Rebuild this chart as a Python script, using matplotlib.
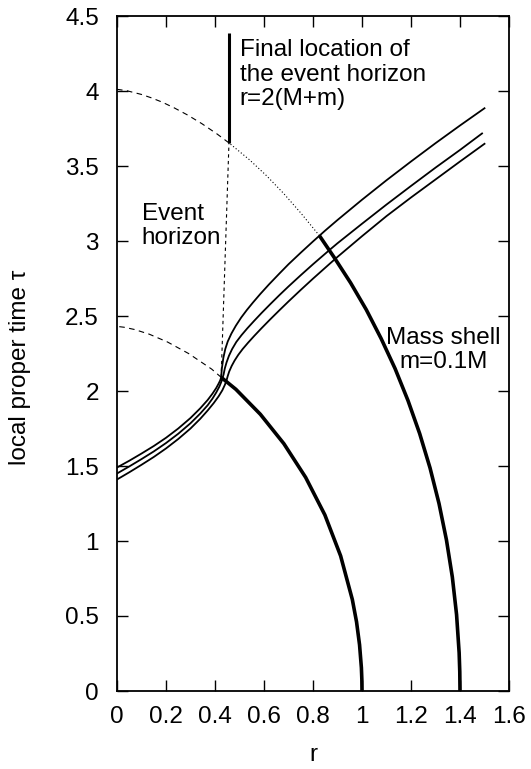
import matplotlib
matplotlib.use("Agg")
import matplotlib.pyplot as plt

plt.rcParams['font.family'] = ['Liberation Sans', 'DejaVu Sans']

# light rays (upper, middle, lower)
ray1_r = [0.0, 0.05, 0.10, 0.15, 0.20, 0.25, 0.30, 0.34, 0.37, 0.39, 0.405, 0.415, 0.421, 0.425, 0.428, 0.434,
          0.442, 0.452, 0.467, 0.485, 0.507, 0.53, 0.555, 0.585, 0.62, 0.664, 0.70, 0.75, 0.80, 0.85, 0.90,
          1.00, 1.10, 1.20, 1.30, 1.40, 1.50]
ray1_t = [1.49, 1.535, 1.583, 1.633, 1.688, 1.75, 1.82, 1.885, 1.94, 1.983, 2.02, 2.05, 2.07, 2.09, 2.15, 2.22,
          2.28, 2.33, 2.383, 2.435, 2.49, 2.54, 2.59, 2.647, 2.71, 2.785, 2.845, 2.922, 2.997, 3.07, 3.14,
          3.275, 3.405, 3.53, 3.652, 3.77, 3.885]
ray2_r = [0.0, 0.05, 0.10, 0.15, 0.20, 0.25, 0.30, 0.34, 0.37, 0.39, 0.405, 0.418, 0.428, 0.435, 0.44, 0.447,
          0.457, 0.47, 0.487, 0.508, 0.532, 0.56, 0.59, 0.625, 0.664, 0.70, 0.75, 0.80, 0.868, 0.90,
          1.00, 1.10, 1.20, 1.30, 1.40, 1.49]
ray2_t = [1.45, 1.497, 1.546, 1.597, 1.653, 1.715, 1.785, 1.85, 1.905, 1.95, 1.99, 2.03, 2.07, 2.11, 2.15, 2.19,
          2.235, 2.28, 2.327, 2.372, 2.418, 2.468, 2.52, 2.578, 2.641, 2.697, 2.772, 2.845, 2.941, 2.985,
          3.115, 3.243, 3.367, 3.489, 3.607, 3.717]
ray3_r = [0.0, 0.05, 0.10, 0.15, 0.20, 0.25, 0.30, 0.34, 0.37, 0.395, 0.415, 0.43, 0.44, 0.447, 0.452, 0.458,
          0.468, 0.48, 0.495, 0.513, 0.535, 0.56, 0.589, 0.625, 0.664, 0.70, 0.75, 0.80, 0.868, 0.90,
          1.00, 1.10, 1.20, 1.30, 1.40, 1.50]
ray3_t = [1.41, 1.458, 1.508, 1.56, 1.617, 1.68, 1.75, 1.815, 1.87, 1.92, 1.965, 2.005, 2.04, 2.07, 2.10, 2.13,
          2.167, 2.203, 2.241, 2.28, 2.322, 2.367, 2.417, 2.477, 2.54, 2.597, 2.674, 2.749, 2.848, 2.894,
          3.032, 3.166, 3.29, 3.41, 3.53, 3.648]

# inner shell (starts at r=1)
shell1_r = [1.0, 0.9994, 0.9975, 0.990, 0.9777, 0.9605, 0.9127, 0.8484, 0.770, 0.681, 0.585, 0.4854, 0.426]
shell1_t = [0.0, 0.077, 0.155, 0.308, 0.461, 0.610, 0.901, 1.174, 1.424, 1.649, 1.845, 2.011, 2.09]
shell1_ext_r = [0.426, 0.3864, 0.292, 0.2057, 0.1313, 0.0715, 0.029, 0.005, 0.0]
shell1_ext_t = [2.09, 2.146, 2.250, 2.327, 2.379, 2.410, 2.425, 2.4297, 2.43]

# outer shell (starts at r=1.4)
shell2_r = [1.4, 1.3991, 1.3965, 1.386, 1.3687, 1.3447, 1.3143, 1.2777, 1.2354, 1.1878, 1.1351, 1.078,
            1.0175, 0.9535, 0.887, 0.826]
shell2_t = [0.0, 0.128, 0.255, 0.509, 0.760, 1.007, 1.250, 1.487, 1.716, 1.936, 2.149, 2.350,
            2.542, 2.721, 2.889, 3.036]
shell2_dot_r = [0.826, 0.7495, 0.6796, 0.6098, 0.541, 0.457]
shell2_dot_t = [3.036, 3.188, 3.318, 3.436, 3.541, 3.654]
shell2_ext_r = [0.457, 0.4088, 0.3466, 0.288, 0.2336, 0.184, 0.1392, 0.100, 0.0406, 0.007, 0.0]
shell2_ext_t = [3.654, 3.713, 3.782, 3.840, 3.8875, 3.926, 3.955, 3.977, 4.0015, 4.0098, 4.01]

# event horizon
horizon_r = [0.425, 0.457]
horizon_t = [2.09, 3.654]
final_r = [0.457, 0.457]
final_t = [3.654, 4.39]

fig = plt.figure(figsize=(5.31, 7.69), dpi=100)
ax = fig.add_axes([117/531, 78/769, 392/531, 675/769])

for r, t in [(ray1_r, ray1_t), (ray2_r, ray2_t), (ray3_r, ray3_t)]:
    ax.plot(r, t, color='black', lw=1.3)

ax.plot(shell1_r, shell1_t, color='black', lw=2.6, solid_capstyle='butt')
ax.plot(shell2_r, shell2_t, color='black', lw=2.6, solid_capstyle='butt')
ax.plot(shell1_ext_r, shell1_ext_t, color='black', lw=0.8, dashes=(5, 4))
ax.plot(shell2_ext_r, shell2_ext_t, color='black', lw=0.8, dashes=(5, 4))
ax.plot(shell2_dot_r, shell2_dot_t, color='black', lw=0.8, dashes=(1, 2))
ax.plot(horizon_r, horizon_t, color='black', lw=0.8, dashes=(3, 3))
ax.plot(final_r, final_t, color='black', lw=2.2, solid_capstyle='butt')

fs = 17.5
ax.text(0.50, 4.345, "Final location of\nthe event horizon\nr=2(M+m)", fontsize=fs, va='top', ha='left',
        linespacing=1.15)
ax.text(0.10, 3.255, "Event\nhorizon", fontsize=fs, va='top', ha='left', linespacing=1.15)
ax.text(1.333, 2.43, "Mass shell\nm=0.1M", fontsize=fs, va='top', ha='center', linespacing=1.15)

ax.set_xlim(0, 1.6)
ax.set_ylim(0, 4.5)
ax.set_xticks([0, 0.2, 0.4, 0.6, 0.8, 1, 1.2, 1.4, 1.6])
ax.set_xticklabels(['0', '0.2', '0.4', '0.6', '0.8', '1', '1.2', '1.4', '1.6'])
ax.set_yticks([0, 0.5, 1, 1.5, 2, 2.5, 3, 3.5, 4, 4.5])
ax.set_yticklabels(['0', '0.5', '1', '1.5', '2', '2.5', '3', '3.5', '4', '4.5'])
ax.tick_params(direction='in', top=True, right=True, length=8, width=1, labelsize=fs)
ax.tick_params(axis='x', pad=11)
ax.tick_params(axis='y', pad=13)
for s in ax.spines.values():
    s.set_linewidth(1.3)
ax.set_xlabel('r', fontsize=fs, labelpad=11)
ax.set_ylabel('local proper time τ', fontsize=fs)
ax.yaxis.set_label_coords(-0.219, 0.48)

fig.savefig('out.png', dpi=100)
